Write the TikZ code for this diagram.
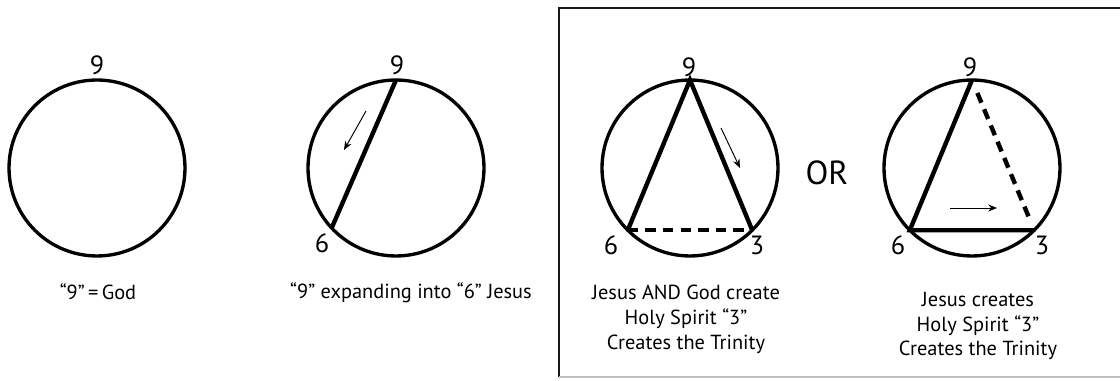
\documentclass[tikz,border=0pt]{standalone}
\usepackage{fontspec}
\setmainfont{PT Sans}
\usetikzlibrary{arrows.meta}

\begin{document}
\begin{tikzpicture}[x=0.02cm,y=0.02cm,
  every node/.style={font=\fontsize{11.6}{14.2}\selectfont},
  ring/.style={draw,circle,line width=1.9pt,inner sep=0pt,outer sep=0pt,minimum size=3.52cm},
  chord/.style={line width=2.5pt},
  dashchord/.style={line width=2.5pt,dash pattern=on 6pt off 4pt},
  num/.style={font=\fontsize{15}{18}\selectfont},
  flow/.style={-{Stealth[length=5pt,width=4pt]},line width=0.55pt}]
\useasboundingbox (0,0) rectangle (1120,381);
% frame round the two trinity pictures
\draw[line width=1.4pt,black!90] (1120,373) -- (559,373) -- (559,4);
\draw[line width=0.6pt,gray!50] (559,4) -- (1120,4);
% god
\node[ring] (god) at (97,213) {};
\node[num] (god9) at (97,316) {9};
\node (godcap) at (98,89) {“9”\,=\,God};
% jesus
\node[ring] (jesus) at (396,213) {};
\node[num] (jesus9) at (397,316) {9};
\node[num] (jesus6) at (322,138) {6};
\draw[chord] (jesus.90) -- (jesus.223);
\coordinate (jesusA) at (366,270);
\coordinate (jesusB) at (344,231);
\draw[flow] (jesusA) -- (jesusB);
\node (jesuscap) at (411,88) {“9” expanding into “6” Jesus};
% trinity, first way
\node[ring] (trinA) at (690,213) {};
\node[num] (trinA9) at (689,314) {9};
\node[num] (trinA6) at (611,136) {6};
\node[num] (trinA3) at (757,136) {3};
\draw[chord] (trinA.225) -- (trinA.90) -- (trinA.315);
\draw[dashchord] (trinA.225) -- (trinA.315);
\coordinate (trinAa) at (721,253);
\coordinate (trinAb) at (740,213);
\draw[flow] (trinAa) -- (trinAb);
\node[align=center] (trinAcap) at (686,62) {Jesus AND God create\\Holy Spirit “3”\\Creates the Trinity};
% or
\node[font=\fontsize{19}{22}\selectfont] (or) at (827,208) {OR};
% trinity, second way
\node[ring] (trinB) at (972,213) {};
\node[num] (trinB9) at (970,314) {9};
\node[num] (trinB6) at (898,136) {6};
\node[num] (trinB3) at (1042,136) {3};
\draw[chord] (trinB.90) -- (trinB.225) -- (trinB.315);
\draw[dashchord,shorten <=8pt,shorten >=7pt] (trinB.90) -- (trinB.315);
\coordinate (trinBa) at (950,173);
\coordinate (trinBb) at (997,173);
\draw[flow] (trinBa) -- (trinBb);
\node[align=center] (trinBcap) at (978,55) {Jesus creates\\Holy Spirit “3”\\Creates the Trinity};
\end{tikzpicture}
\end{document}
